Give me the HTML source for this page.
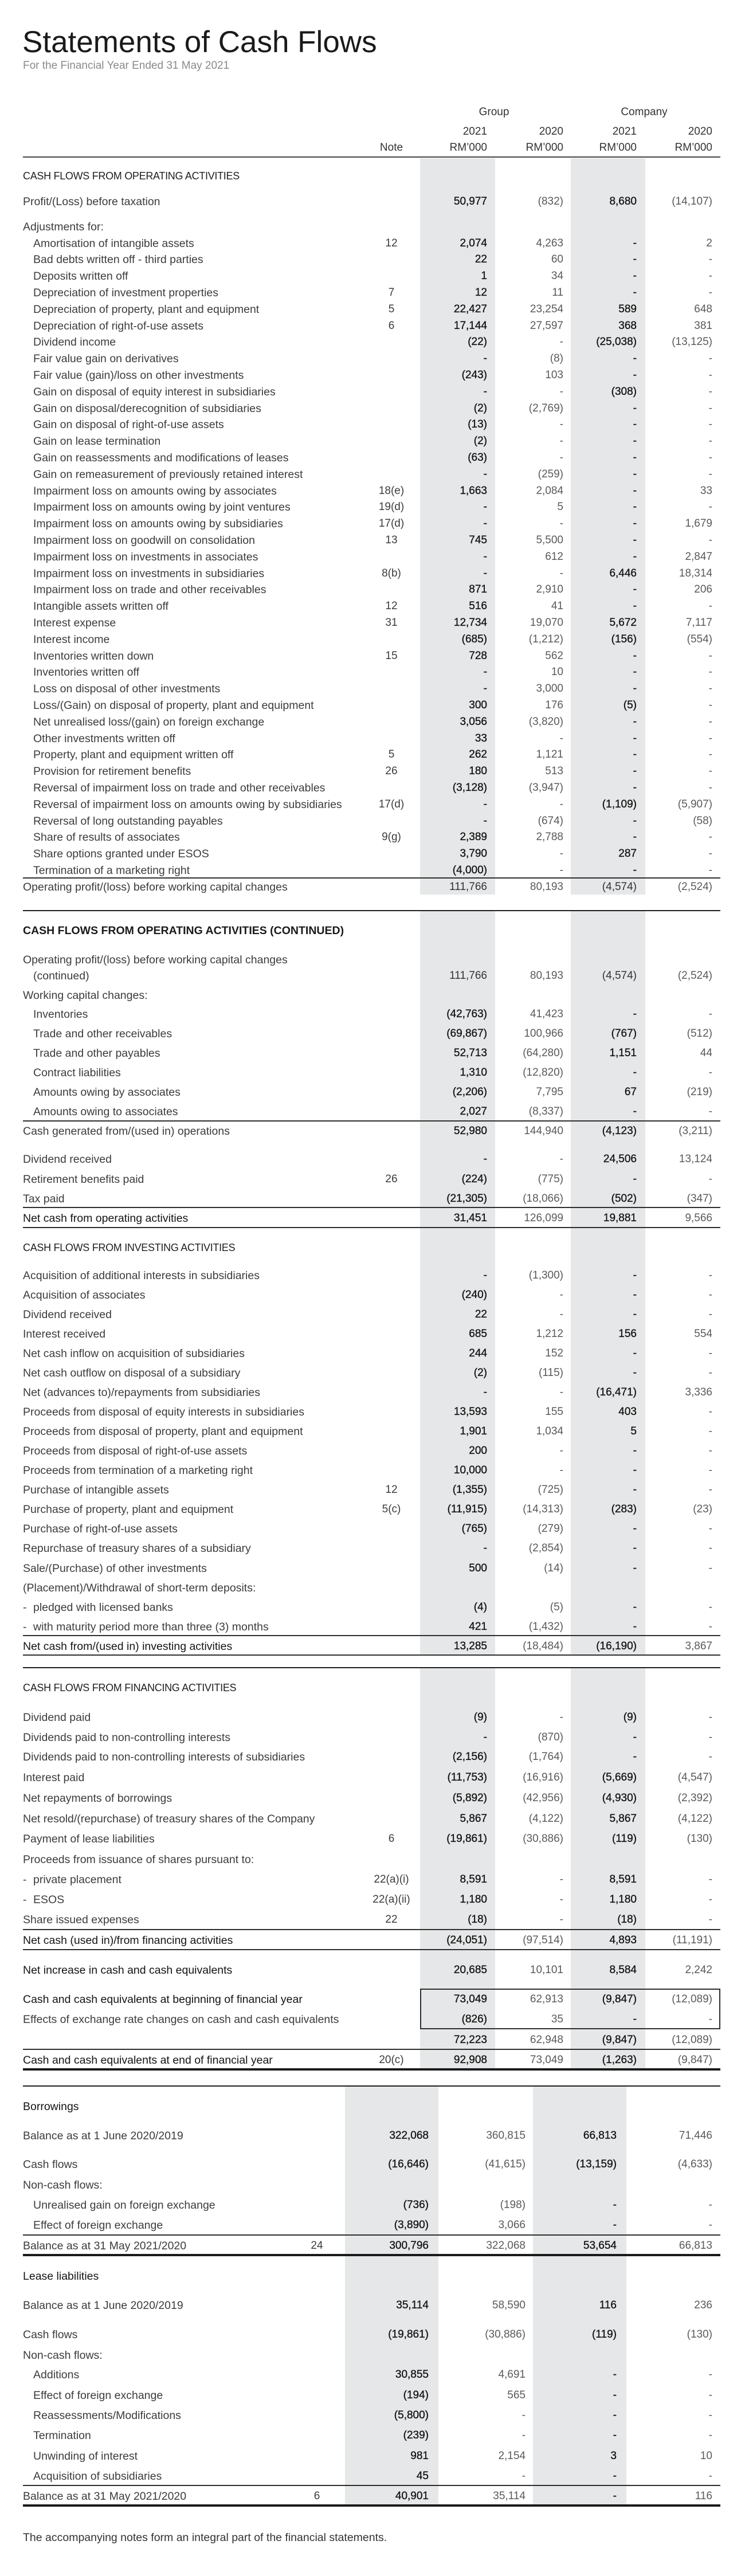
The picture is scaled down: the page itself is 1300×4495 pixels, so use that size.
<!DOCTYPE html>
<html>
<head>
<meta charset="utf-8">
<style>
html,body{margin:0;padding:0;}
body{width:1300px;height:4495px;position:relative;background:#fff;font-family:"Liberation Sans",Arial,sans-serif;overflow:hidden;}
.g{position:absolute;background:#e6e7e8;}
.h{position:absolute;left:40px;width:1217px;height:2px;background:#2e2e2e;}
.hk{position:absolute;left:40px;width:1217px;height:4px;background:#1a1a1a;}
.r{position:absolute;left:0;width:1300px;height:24px;line-height:24px;font-size:19.5px;color:#3c3c3c;white-space:nowrap;}
.r span{position:absolute;top:0;}
.l{left:40px;}
.i{left:58px;}
.k{left:40px;color:#141414;}
.s{left:40px;color:#1e1e1e;font-size:18px;letter-spacing:-0.3px;}
.n{left:633px;width:100px;text-align:center;font-size:19px;}
.a{right:450px;color:#141414;font-size:19px;-webkit-text-stroke:0.35px #141414;}
.b{right:317px;font-size:19px;color:#5a5a5a;}
.c{right:189px;color:#141414;font-size:19px;-webkit-text-stroke:0.35px #141414;}
.d{right:57px;font-size:19px;color:#5a5a5a;}
.w{-webkit-text-stroke:0 !important;color:#333 !important;}
.n2{left:503px;width:100px;text-align:center;font-size:19px;}
.a2{right:552px;color:#141414;font-size:19px;-webkit-text-stroke:0.35px #141414;}
.b2{right:383px;font-size:19px;color:#5a5a5a;}
.c2{right:224px;color:#141414;font-size:19px;-webkit-text-stroke:0.35px #141414;}
.hd{font-size:19px;color:#333;}
.box{position:absolute;left:733px;top:3470px;width:520px;height:67px;border:2px solid #2e2e2e;}
</style>
</head>
<body>

<div style="position:absolute;left:39px;top:48px;font-size:53px;line-height:52px;color:#1a1a1a;white-space:nowrap;">Statements of Cash Flows</div>
<div style="position:absolute;left:40px;top:103px;font-size:19px;line-height:24px;color:#8a8a8a;white-space:nowrap;">For the Financial Year Ended 31 May 2021</div>

<!-- shaded columns -->
<div class="g" style="left:733px;top:276px;width:131px;height:1285px;"></div>
<div class="g" style="left:996px;top:276px;width:130px;height:1285px;"></div>
<div class="g" style="left:733px;top:1590px;width:131px;height:1298px;"></div>
<div class="g" style="left:996px;top:1590px;width:130px;height:1298px;"></div>
<div class="g" style="left:733px;top:2911px;width:131px;height:698px;"></div>
<div class="g" style="left:996px;top:2911px;width:130px;height:698px;"></div>
<div class="g" style="left:602px;top:3641px;width:163px;height:729px;"></div>
<div class="g" style="left:930px;top:3641px;width:163px;height:729px;"></div>

<!-- header -->
<div class="r hd" style="top:184px"><span style="left:812px;width:100px;text-align:center;">Group</span><span style="left:1074px;width:100px;text-align:center;">Company</span></div>
<div class="r hd" style="top:218px"><span style="right:450px">2021</span><span style="right:317px">2020</span><span style="right:189px">2021</span><span style="right:57px">2020</span></div>
<div class="r hd" style="top:246px"><span style="left:633px;width:100px;text-align:center;">Note</span><span style="right:450px">RM’000</span><span style="right:317px">RM’000</span><span style="right:189px">RM’000</span><span style="right:57px">RM’000</span></div>
<div class="h" style="top:273px;background:#444;"></div>

<!-- Section 1 -->
<div class="r" style="top:294.5px"><span class="s">CASH FLOWS FROM OPERATING ACTIVITIES</span></div>
<div class="r" style="top:339.5px"><span class="l">Profit/(Loss) before taxation</span><span class="a">50,977</span><span class="b">(832)</span><span class="c">8,680</span><span class="d">(14,107)</span></div>
<div class="r" style="top:384px"><span class="l">Adjustments for:</span></div>
<div class="r" style="top:412.5px"><span class="i">Amortisation of intangible assets</span><span class="n">12</span><span class="a">2,074</span><span class="b">4,263</span><span class="c">-</span><span class="d">2</span></div>
<div class="r" style="top:441.3px"><span class="i">Bad debts written off - third parties</span><span class="a">22</span><span class="b">60</span><span class="c">-</span><span class="d">-</span></div>
<div class="r" style="top:470.1px"><span class="i">Deposits written off</span><span class="a">1</span><span class="b">34</span><span class="c">-</span><span class="d">-</span></div>
<div class="r" style="top:498.9px"><span class="i">Depreciation of investment properties</span><span class="n">7</span><span class="a">12</span><span class="b">11</span><span class="c">-</span><span class="d">-</span></div>
<div class="r" style="top:527.7px"><span class="i">Depreciation of property, plant and equipment</span><span class="n">5</span><span class="a">22,427</span><span class="b">23,254</span><span class="c">589</span><span class="d">648</span></div>
<div class="r" style="top:556.5px"><span class="i">Depreciation of right-of-use assets</span><span class="n">6</span><span class="a">17,144</span><span class="b">27,597</span><span class="c">368</span><span class="d">381</span></div>
<div class="r" style="top:585.3px"><span class="i">Dividend income</span><span class="a">(22)</span><span class="b">-</span><span class="c">(25,038)</span><span class="d">(13,125)</span></div>
<div class="r" style="top:614.1px"><span class="i">Fair value gain on derivatives</span><span class="a">-</span><span class="b">(8)</span><span class="c">-</span><span class="d">-</span></div>
<div class="r" style="top:642.9px"><span class="i">Fair value (gain)/loss on other investments</span><span class="a">(243)</span><span class="b">103</span><span class="c">-</span><span class="d">-</span></div>
<div class="r" style="top:671.7px"><span class="i">Gain on disposal of equity interest in subsidiaries</span><span class="a">-</span><span class="b">-</span><span class="c">(308)</span><span class="d">-</span></div>
<div class="r" style="top:700.5px"><span class="i">Gain on disposal/derecognition of subsidiaries</span><span class="a">(2)</span><span class="b">(2,769)</span><span class="c">-</span><span class="d">-</span></div>
<div class="r" style="top:729.3px"><span class="i">Gain on disposal of right-of-use assets</span><span class="a">(13)</span><span class="b">-</span><span class="c">-</span><span class="d">-</span></div>
<div class="r" style="top:758.1px"><span class="i">Gain on lease termination</span><span class="a">(2)</span><span class="b">-</span><span class="c">-</span><span class="d">-</span></div>
<div class="r" style="top:786.9px"><span class="i">Gain on reassessments and modifications of leases</span><span class="a">(63)</span><span class="b">-</span><span class="c">-</span><span class="d">-</span></div>
<div class="r" style="top:815.7px"><span class="i">Gain on remeasurement of previously retained interest</span><span class="a">-</span><span class="b">(259)</span><span class="c">-</span><span class="d">-</span></div>
<div class="r" style="top:844.5px"><span class="i">Impairment loss on amounts owing by associates</span><span class="n">18(e)</span><span class="a">1,663</span><span class="b">2,084</span><span class="c">-</span><span class="d">33</span></div>
<div class="r" style="top:873.3px"><span class="i">Impairment loss on amounts owing by joint ventures</span><span class="n">19(d)</span><span class="a">-</span><span class="b">5</span><span class="c">-</span><span class="d">-</span></div>
<div class="r" style="top:902.1px"><span class="i">Impairment loss on amounts owing by subsidiaries</span><span class="n">17(d)</span><span class="a">-</span><span class="b">-</span><span class="c">-</span><span class="d">1,679</span></div>
<div class="r" style="top:930.9px"><span class="i">Impairment loss on goodwill on consolidation</span><span class="n">13</span><span class="a">745</span><span class="b">5,500</span><span class="c">-</span><span class="d">-</span></div>
<div class="r" style="top:959.7px"><span class="i">Impairment loss on investments in associates</span><span class="a">-</span><span class="b">612</span><span class="c">-</span><span class="d">2,847</span></div>
<div class="r" style="top:988.5px"><span class="i">Impairment loss on investments in subsidiaries</span><span class="n">8(b)</span><span class="a">-</span><span class="b">-</span><span class="c">6,446</span><span class="d">18,314</span></div>
<div class="r" style="top:1017.3px"><span class="i">Impairment loss on trade and other receivables</span><span class="a">871</span><span class="b">2,910</span><span class="c">-</span><span class="d">206</span></div>
<div class="r" style="top:1046.1px"><span class="i">Intangible assets written off</span><span class="n">12</span><span class="a">516</span><span class="b">41</span><span class="c">-</span><span class="d">-</span></div>
<div class="r" style="top:1074.9px"><span class="i">Interest expense</span><span class="n">31</span><span class="a">12,734</span><span class="b">19,070</span><span class="c">5,672</span><span class="d">7,117</span></div>
<div class="r" style="top:1103.7px"><span class="i">Interest income</span><span class="a">(685)</span><span class="b">(1,212)</span><span class="c">(156)</span><span class="d">(554)</span></div>
<div class="r" style="top:1132.5px"><span class="i">Inventories written down</span><span class="n">15</span><span class="a">728</span><span class="b">562</span><span class="c">-</span><span class="d">-</span></div>
<div class="r" style="top:1161.3px"><span class="i">Inventories written off</span><span class="a">-</span><span class="b">10</span><span class="c">-</span><span class="d">-</span></div>
<div class="r" style="top:1190.1px"><span class="i">Loss on disposal of other investments</span><span class="a">-</span><span class="b">3,000</span><span class="c">-</span><span class="d">-</span></div>
<div class="r" style="top:1218.9px"><span class="i">Loss/(Gain) on disposal of property, plant and equipment</span><span class="a">300</span><span class="b">176</span><span class="c">(5)</span><span class="d">-</span></div>
<div class="r" style="top:1247.7px"><span class="i">Net unrealised loss/(gain) on foreign exchange</span><span class="a">3,056</span><span class="b">(3,820)</span><span class="c">-</span><span class="d">-</span></div>
<div class="r" style="top:1276.5px"><span class="i">Other investments written off</span><span class="a">33</span><span class="b">-</span><span class="c">-</span><span class="d">-</span></div>
<div class="r" style="top:1305.3px"><span class="i">Property, plant and equipment written off</span><span class="n">5</span><span class="a">262</span><span class="b">1,121</span><span class="c">-</span><span class="d">-</span></div>
<div class="r" style="top:1334.1px"><span class="i">Provision for retirement benefits</span><span class="n">26</span><span class="a">180</span><span class="b">513</span><span class="c">-</span><span class="d">-</span></div>
<div class="r" style="top:1362.9px"><span class="i">Reversal of impairment loss on trade and other receivables</span><span class="a">(3,128)</span><span class="b">(3,947)</span><span class="c">-</span><span class="d">-</span></div>
<div class="r" style="top:1391.7px"><span class="i">Reversal of impairment loss on amounts owing by subsidiaries</span><span class="n">17(d)</span><span class="a">-</span><span class="b">-</span><span class="c">(1,109)</span><span class="d">(5,907)</span></div>
<div class="r" style="top:1420.5px"><span class="i">Reversal of long outstanding payables</span><span class="a">-</span><span class="b">(674)</span><span class="c">-</span><span class="d">(58)</span></div>
<div class="r" style="top:1449.3px"><span class="i">Share of results of associates</span><span class="n">9(g)</span><span class="a">2,389</span><span class="b">2,788</span><span class="c">-</span><span class="d">-</span></div>
<div class="r" style="top:1478.1px"><span class="i">Share options granted under ESOS</span><span class="a">3,790</span><span class="b">-</span><span class="c">287</span><span class="d">-</span></div>
<div class="r" style="top:1506.9px"><span class="i">Termination of a marketing right</span><span class="a">(4,000)</span><span class="b">-</span><span class="c">-</span><span class="d">-</span></div>
<div class="h" style="top:1531px"></div>
<div class="r" style="top:1535.7px"><span class="l">Operating profit/(loss) before working capital changes</span><span class="a w">111,766</span><span class="b">80,193</span><span class="c w">(4,574)</span><span class="d">(2,524)</span></div>

<!-- Section 2 -->
<div class="h" style="top:1588px;background:#1e1e1e;"></div>
<div class="r" style="top:1612px"><span class="l" style="font-weight:bold;color:#1a1a1a;">CASH FLOWS FROM OPERATING ACTIVITIES (CONTINUED)</span></div>
<div class="r" style="top:1663px"><span class="l">Operating profit/(loss) before working capital changes</span></div>
<div class="r" style="top:1691px"><span class="i">(continued)</span><span class="a w">111,766</span><span class="b">80,193</span><span class="c w">(4,574)</span><span class="d">(2,524)</span></div>
<div class="r" style="top:1725px"><span class="l">Working capital changes:</span></div>
<div class="r" style="top:1758px"><span class="i">Inventories</span><span class="a">(42,763)</span><span class="b">41,423</span><span class="c">-</span><span class="d">-</span></div>
<div class="r" style="top:1792px"><span class="i">Trade and other receivables</span><span class="a">(69,867)</span><span class="b">100,966</span><span class="c">(767)</span><span class="d">(512)</span></div>
<div class="r" style="top:1826px"><span class="i">Trade and other payables</span><span class="a">52,713</span><span class="b">(64,280)</span><span class="c">1,151</span><span class="d">44</span></div>
<div class="r" style="top:1860px"><span class="i">Contract liabilities</span><span class="a">1,310</span><span class="b">(12,820)</span><span class="c">-</span><span class="d">-</span></div>
<div class="r" style="top:1894px"><span class="i">Amounts owing by associates</span><span class="a">(2,206)</span><span class="b">7,795</span><span class="c">67</span><span class="d">(219)</span></div>
<div class="r" style="top:1928px"><span class="i">Amounts owing to associates</span><span class="a">2,027</span><span class="b">(8,337)</span><span class="c">-</span><span class="d">-</span></div>
<div class="h" style="top:1955px"></div>
<div class="r" style="top:1962px"><span class="l">Cash generated from/(used in) operations</span><span class="a">52,980</span><span class="b">144,940</span><span class="c">(4,123)</span><span class="d">(3,211)</span></div>
<div class="r" style="top:2011px"><span class="l">Dividend received</span><span class="a">-</span><span class="b">-</span><span class="c">24,506</span><span class="d">13,124</span></div>
<div class="r" style="top:2046px"><span class="l">Retirement benefits paid</span><span class="n">26</span><span class="a">(224)</span><span class="b">(775)</span><span class="c">-</span><span class="d">-</span></div>
<div class="r" style="top:2080px"><span class="l">Tax paid</span><span class="a">(21,305)</span><span class="b">(18,066)</span><span class="c">(502)</span><span class="d">(347)</span></div>
<div class="h" style="top:2106px"></div>
<div class="r" style="top:2114px"><span class="k">Net cash from operating activities</span><span class="a">31,451</span><span class="b">126,099</span><span class="c">19,881</span><span class="d">9,566</span></div>
<div class="h" style="top:2141px"></div>

<div class="r" style="top:2165px"><span class="s">CASH FLOWS FROM INVESTING ACTIVITIES</span></div>
<div class="r" style="top:2214px"><span class="l">Acquisition of additional interests in subsidiaries</span><span class="a">-</span><span class="b">(1,300)</span><span class="c">-</span><span class="d">-</span></div>
<div class="r" style="top:2248px"><span class="l">Acquisition of associates</span><span class="a">(240)</span><span class="b">-</span><span class="c">-</span><span class="d">-</span></div>
<div class="r" style="top:2282px"><span class="l">Dividend received</span><span class="a">22</span><span class="b">-</span><span class="c">-</span><span class="d">-</span></div>
<div class="r" style="top:2316px"><span class="l">Interest received</span><span class="a">685</span><span class="b">1,212</span><span class="c">156</span><span class="d">554</span></div>
<div class="r" style="top:2350px"><span class="l">Net cash inflow on acquisition of subsidiaries</span><span class="a">244</span><span class="b">152</span><span class="c">-</span><span class="d">-</span></div>
<div class="r" style="top:2384px"><span class="l">Net cash outflow on disposal of a subsidiary</span><span class="a">(2)</span><span class="b">(115)</span><span class="c">-</span><span class="d">-</span></div>
<div class="r" style="top:2418px"><span class="l">Net (advances to)/repayments from subsidiaries</span><span class="a">-</span><span class="b">-</span><span class="c">(16,471)</span><span class="d">3,336</span></div>
<div class="r" style="top:2452px"><span class="l">Proceeds from disposal of equity interests in subsidiaries</span><span class="a">13,593</span><span class="b">155</span><span class="c">403</span><span class="d">-</span></div>
<div class="r" style="top:2486px"><span class="l">Proceeds from disposal of property, plant and equipment</span><span class="a">1,901</span><span class="b">1,034</span><span class="c">5</span><span class="d">-</span></div>
<div class="r" style="top:2520px"><span class="l">Proceeds from disposal of right-of-use assets</span><span class="a">200</span><span class="b">-</span><span class="c">-</span><span class="d">-</span></div>
<div class="r" style="top:2554px"><span class="l">Proceeds from termination of a marketing right</span><span class="a">10,000</span><span class="b">-</span><span class="c">-</span><span class="d">-</span></div>
<div class="r" style="top:2588px"><span class="l">Purchase of intangible assets</span><span class="n">12</span><span class="a">(1,355)</span><span class="b">(725)</span><span class="c">-</span><span class="d">-</span></div>
<div class="r" style="top:2622px"><span class="l">Purchase of property, plant and equipment</span><span class="n">5(c)</span><span class="a">(11,915)</span><span class="b">(14,313)</span><span class="c">(283)</span><span class="d">(23)</span></div>
<div class="r" style="top:2656px"><span class="l">Purchase of right-of-use assets</span><span class="a">(765)</span><span class="b">(279)</span><span class="c">-</span><span class="d">-</span></div>
<div class="r" style="top:2690px"><span class="l">Repurchase of treasury shares of a subsidiary</span><span class="a">-</span><span class="b">(2,854)</span><span class="c">-</span><span class="d">-</span></div>
<div class="r" style="top:2725px"><span class="l">Sale/(Purchase) of other investments</span><span class="a">500</span><span class="b">(14)</span><span class="c">-</span><span class="d">-</span></div>
<div class="r" style="top:2759px"><span class="l">(Placement)/Withdrawal of short-term deposits:</span></div>
<div class="r" style="top:2793px"><span class="l">-</span><span class="i">pledged with licensed banks</span><span class="a">(4)</span><span class="b">(5)</span><span class="c">-</span><span class="d">-</span></div>
<div class="r" style="top:2827px"><span class="l">-</span><span class="i">with maturity period more than three (3) months</span><span class="a">421</span><span class="b">(1,432)</span><span class="c">-</span><span class="d">-</span></div>
<div class="h" style="top:2853px"></div>
<div class="r" style="top:2861px"><span class="k">Net cash from/(used in) investing activities</span><span class="a">13,285</span><span class="b">(18,484)</span><span class="c">(16,190)</span><span class="d">3,867</span></div>
<div class="h" style="top:2887px"></div>

<!-- Section 3 -->
<div class="h" style="top:2909px;background:#1e1e1e;"></div>
<div class="r" style="top:2933px"><span class="s">CASH FLOWS FROM FINANCING ACTIVITIES</span></div>
<div class="r" style="top:2985px"><span class="l">Dividend paid</span><span class="a">(9)</span><span class="b">-</span><span class="c">(9)</span><span class="d">-</span></div>
<div class="r" style="top:3020px"><span class="l">Dividends paid to non-controlling interests</span><span class="a">-</span><span class="b">(870)</span><span class="c">-</span><span class="d">-</span></div>
<div class="r" style="top:3054px"><span class="l">Dividends paid to non-controlling interests of subsidiaries</span><span class="a">(2,156)</span><span class="b">(1,764)</span><span class="c">-</span><span class="d">-</span></div>
<div class="r" style="top:3090px"><span class="l">Interest paid</span><span class="a">(11,753)</span><span class="b">(16,916)</span><span class="c">(5,669)</span><span class="d">(4,547)</span></div>
<div class="r" style="top:3126px"><span class="l">Net repayments of borrowings</span><span class="a">(5,892)</span><span class="b">(42,956)</span><span class="c">(4,930)</span><span class="d">(2,392)</span></div>
<div class="r" style="top:3162px"><span class="l">Net resold/(repurchase) of treasury shares of the Company</span><span class="a">5,867</span><span class="b">(4,122)</span><span class="c">5,867</span><span class="d">(4,122)</span></div>
<div class="r" style="top:3197px"><span class="l">Payment of lease liabilities</span><span class="n">6</span><span class="a">(19,861)</span><span class="b">(30,886)</span><span class="c">(119)</span><span class="d">(130)</span></div>
<div class="r" style="top:3233px"><span class="l">Proceeds from issuance of shares pursuant to:</span></div>
<div class="r" style="top:3268px"><span class="l">-</span><span class="i">private placement</span><span class="n">22(a)(i)</span><span class="a">8,591</span><span class="b">-</span><span class="c">8,591</span><span class="d">-</span></div>
<div class="r" style="top:3303px"><span class="l">-</span><span class="i">ESOS</span><span class="n">22(a)(ii)</span><span class="a">1,180</span><span class="b">-</span><span class="c">1,180</span><span class="d">-</span></div>
<div class="r" style="top:3338px"><span class="l">Share issued expenses</span><span class="n">22</span><span class="a">(18)</span><span class="b">-</span><span class="c">(18)</span><span class="d">-</span></div>
<div class="h" style="top:3366px"></div>
<div class="r" style="top:3374px"><span class="k">Net cash (used in)/from financing activities</span><span class="a">(24,051)</span><span class="b">(97,514)</span><span class="c">4,893</span><span class="d">(11,191)</span></div>
<div class="h" style="top:3401px"></div>
<div class="r" style="top:3426px"><span class="k">Net increase in cash and cash equivalents</span><span class="a">20,685</span><span class="b">10,101</span><span class="c">8,584</span><span class="d">2,242</span></div>
<div class="box"></div>
<div class="r" style="top:3477px"><span class="k">Cash and cash equivalents at beginning of financial year</span><span class="a">73,049</span><span class="b">62,913</span><span class="c">(9,847)</span><span class="d">(12,089)</span></div>
<div class="r" style="top:3512px"><span class="l">Effects of exchange rate changes on cash and cash equivalents</span><span class="a">(826)</span><span class="b">35</span><span class="c">-</span><span class="d">-</span></div>
<div class="r" style="top:3548px"><span class="a">72,223</span><span class="b">62,948</span><span class="c">(9,847)</span><span class="d">(12,089)</span></div>
<div class="h" style="top:3575px"></div>
<div class="r" style="top:3583px"><span class="k">Cash and cash equivalents at end of financial year</span><span class="n">20(c)</span><span class="a">92,908</span><span class="b">73,049</span><span class="c">(1,263)</span><span class="d">(9,847)</span></div>
<div class="hk" style="top:3609px"></div>

<!-- Borrowings -->
<div class="h" style="top:3639px;background:#1e1e1e;"></div>
<div class="r" style="top:3664px"><span class="k">Borrowings</span></div>
<div class="r" style="top:3715px"><span class="l">Balance as at 1 June 2020/2019</span><span class="a2">322,068</span><span class="b2">360,815</span><span class="c2">66,813</span><span class="d">71,446</span></div>
<div class="r" style="top:3765px"><span class="l">Cash flows</span><span class="a2">(16,646)</span><span class="b2">(41,615)</span><span class="c2">(13,159)</span><span class="d">(4,633)</span></div>
<div class="r" style="top:3801px"><span class="l">Non-cash flows:</span></div>
<div class="r" style="top:3836px"><span class="i">Unrealised gain on foreign exchange</span><span class="a2">(736)</span><span class="b2">(198)</span><span class="c2">-</span><span class="d">-</span></div>
<div class="r" style="top:3871px"><span class="i">Effect of foreign exchange</span><span class="a2">(3,890)</span><span class="b2">3,066</span><span class="c2">-</span><span class="d">-</span></div>
<div class="h" style="top:3899px"></div>
<div class="r" style="top:3907px"><span class="l">Balance as at 31 May 2021/2020</span><span class="n2">24</span><span class="a2">300,796</span><span class="b2">322,068</span><span class="c2">53,654</span><span class="d">66,813</span></div>
<div class="hk" style="top:3933px"></div>

<!-- Lease liabilities -->
<div class="r" style="top:3960px"><span class="k">Lease liabilities</span></div>
<div class="r" style="top:4011px"><span class="l">Balance as at 1 June 2020/2019</span><span class="a2">35,114</span><span class="b2">58,590</span><span class="c2">116</span><span class="d">236</span></div>
<div class="r" style="top:4062px"><span class="l">Cash flows</span><span class="a2">(19,861)</span><span class="b2">(30,886)</span><span class="c2">(119)</span><span class="d">(130)</span></div>
<div class="r" style="top:4098px"><span class="l">Non-cash flows:</span></div>
<div class="r" style="top:4132px"><span class="i">Additions</span><span class="a2">30,855</span><span class="b2">4,691</span><span class="c2">-</span><span class="d">-</span></div>
<div class="r" style="top:4168px"><span class="i">Effect of foreign exchange</span><span class="a2">(194)</span><span class="b2">565</span><span class="c2">-</span><span class="d">-</span></div>
<div class="r" style="top:4203px"><span class="i">Reassessments/Modifications</span><span class="a2">(5,800)</span><span class="b2">-</span><span class="c2">-</span><span class="d">-</span></div>
<div class="r" style="top:4238px"><span class="i">Termination</span><span class="a2">(239)</span><span class="b2">-</span><span class="c2">-</span><span class="d">-</span></div>
<div class="r" style="top:4274px"><span class="i">Unwinding of interest</span><span class="a2">981</span><span class="b2">2,154</span><span class="c2">3</span><span class="d">10</span></div>
<div class="r" style="top:4309px"><span class="i">Acquisition of subsidiaries</span><span class="a2">45</span><span class="b2">-</span><span class="c2">-</span><span class="d">-</span></div>
<div class="h" style="top:4336px"></div>
<div class="r" style="top:4344px"><span class="l">Balance as at 31 May 2021/2020</span><span class="n2">6</span><span class="a2">40,901</span><span class="b2">35,114</span><span class="c2">-</span><span class="d">116</span></div>
<div class="hk" style="top:4370px"></div>

<div class="r" style="top:4416px"><span class="l" style="color:#333;">The accompanying notes form an integral part of the financial statements.</span></div>

</body>
</html>
